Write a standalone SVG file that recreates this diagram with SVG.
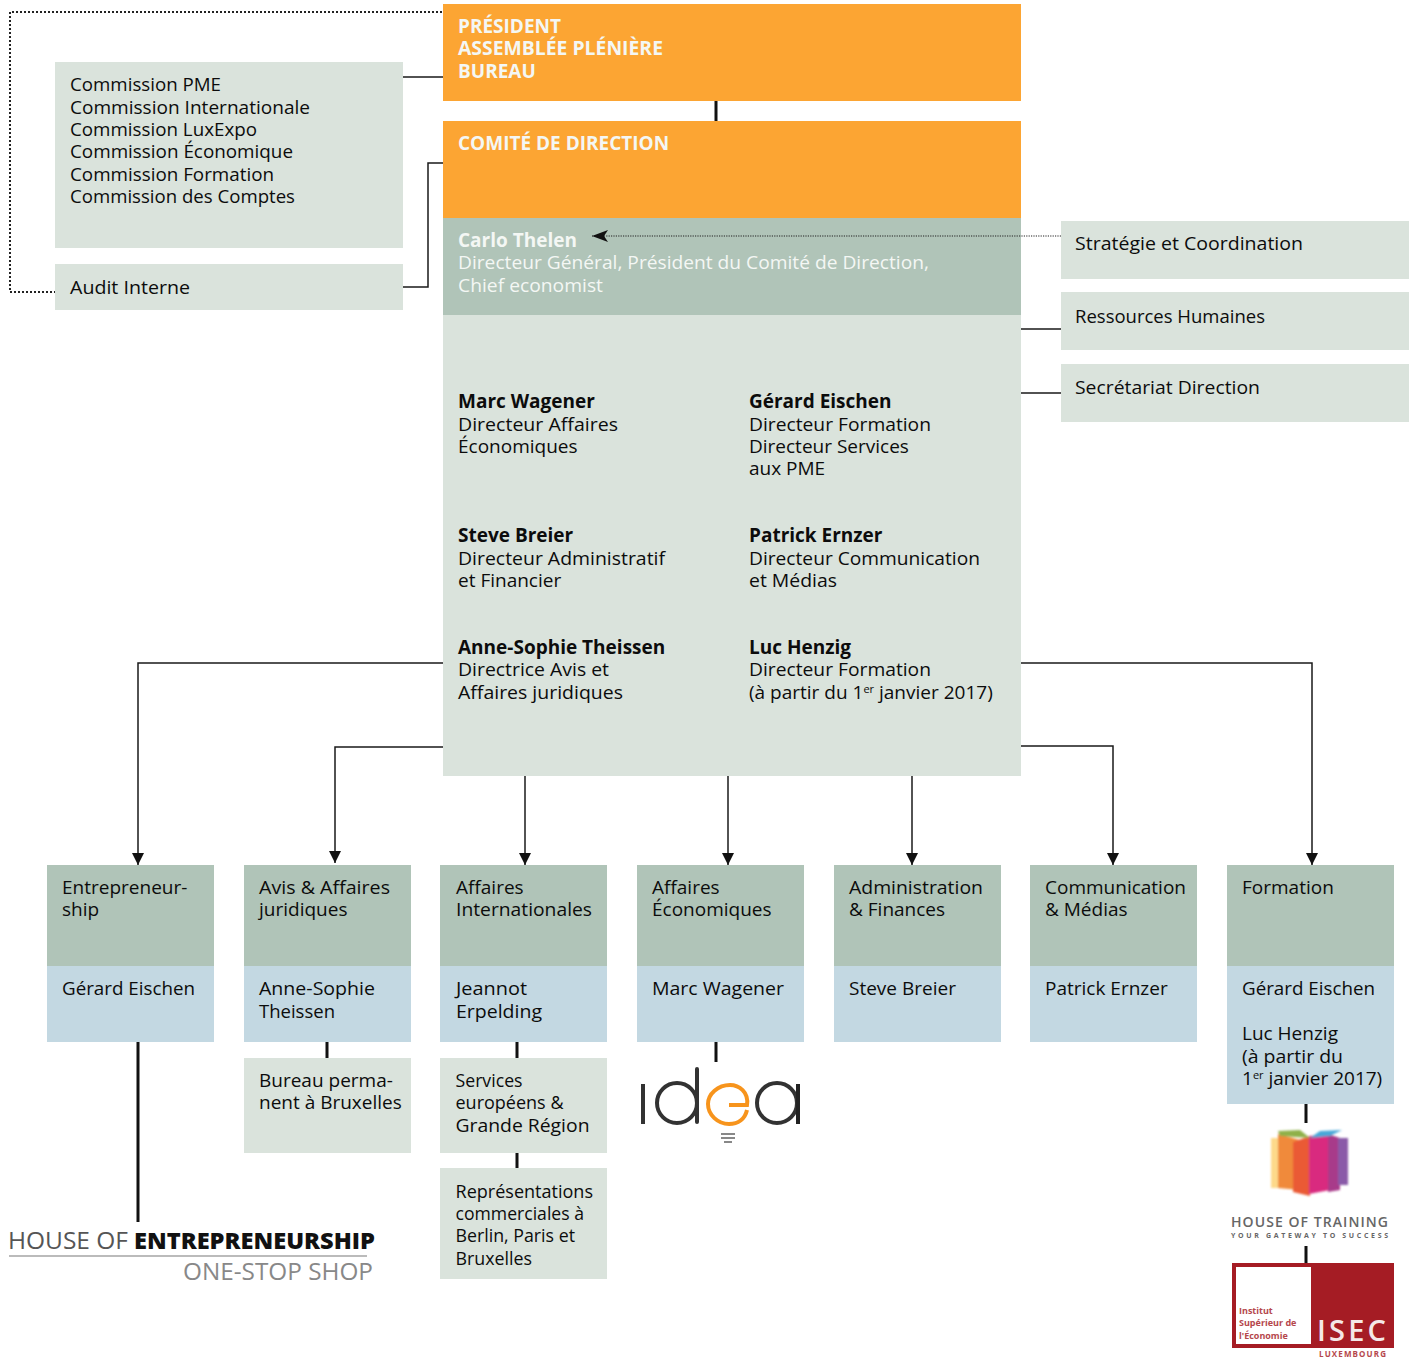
<svg xmlns="http://www.w3.org/2000/svg" width="1414" height="1358" viewBox="0 0 1414 1358">
<style>
text{font-family:"Open Sans","Noto Sans","Liberation Sans",sans-serif;font-size:19px;fill:#0c0c0c}
.b{font-weight:700}
.w{fill:#f4f7f4}
.o{fill:#fca533}
.g{fill:#dae3dc}
.m{fill:#b0c4b8}
.l{fill:#c3d8e2}
.c{fill:none;stroke:#1a1a1a;stroke-width:1.5}
.k{fill:none;stroke:#111;stroke-width:3}
.d{fill:none;stroke:#222;stroke-width:2;stroke-dasharray:2 2}
.e{fill:none;stroke:#222;stroke-width:1.2;stroke-dasharray:1.2 1.2}
</style>
<defs>
<marker id="a" markerWidth="14" markerHeight="14" refX="12" refY="6" orient="auto" markerUnits="userSpaceOnUse"><path d="M0 0L12 6L0 12z" fill="#111"/></marker>
<marker id="h" markerWidth="20" markerHeight="14" refX="16" refY="7" orient="auto" markerUnits="userSpaceOnUse"><path d="M0 1L16 7L0 13L4 7z" fill="#111"/></marker>
<filter id="s" x="-5%" y="-5%" width="110%" height="110%"><feGaussianBlur stdDeviation="1"/></filter>
<filter id="t" x="-5%" y="-5%" width="110%" height="110%"><feGaussianBlur stdDeviation="0.5"/></filter>
</defs>
<g id="connectors">
<path class="d" d="M442 12H10V292H55"/>
<path class="c" d="M403 77H443M403 287H428V163H443M1021 329H1061M1021 393H1061"/>
<path class="k" d="M716 101V121"/>
<path class="c" d="M443 663H138V865" marker-end="url(#a)"/>
<path class="c" d="M443 747H335V863" marker-end="url(#a)"/>
<path class="c" d="M525 776V865" marker-end="url(#a)"/>
<path class="c" d="M728 776V865" marker-end="url(#a)"/>
<path class="c" d="M912 776V865" marker-end="url(#a)"/>
<path class="c" d="M1021 746H1113V865" marker-end="url(#a)"/>
<path class="c" d="M1021 663H1312V865" marker-end="url(#a)"/>
<path class="k" d="M138 1042V1222M327 1042V1058M517 1042V1058M517 1153V1168M716 1042V1062M1306 1104V1123M1306 1246V1263"/>
</g>
<g id="president"><rect class="o" x="443" y="4" width="578" height="97"/>
<text class="b w" x="458" y="33">PRÉSIDENT</text><text class="b w" x="458" y="55" textLength="205" lengthAdjust="spacingAndGlyphs">ASSEMBLÉE PLÉNIÈRE</text><text class="b w" x="458" y="78">BUREAU</text></g>
<g id="comite"><rect class="o" x="443" y="121" width="578" height="97"/>
<text class="b w" x="458" y="150">COMITÉ DE DIRECTION</text></g>
<g id="carlo"><rect class="m" x="443" y="218" width="578" height="97"/>
<text class="b w" x="458" y="247">Carlo Thelen</text><text class="w" x="458" y="269" textLength="471" lengthAdjust="spacingAndGlyphs">Directeur Général, Président du Comité de Direction,</text><text class="w" x="458" y="292" textLength="145" lengthAdjust="spacingAndGlyphs">Chief economist</text></g>
<g id="directors"><rect class="g" x="443" y="315" width="578" height="461"/>
<text class="b" x="458" y="408">Marc Wagener</text><text x="458" y="431" textLength="160" lengthAdjust="spacingAndGlyphs">Directeur Affaires</text><text x="458" y="453">Économiques</text>
<text class="b" x="749" y="408">Gérard Eischen</text><text x="749" y="431" textLength="182" lengthAdjust="spacingAndGlyphs">Directeur Formation</text><text x="749" y="453">Directeur Services</text><text x="749" y="475">aux PME</text>
<text class="b" x="458" y="542">Steve Breier</text><text x="458" y="565" textLength="207" lengthAdjust="spacingAndGlyphs">Directeur Administratif</text><text x="458" y="587">et Financier</text>
<text class="b" x="749" y="542">Patrick Ernzer</text><text x="749" y="565" textLength="231" lengthAdjust="spacingAndGlyphs">Directeur Communication</text><text x="749" y="587" textLength="88" lengthAdjust="spacingAndGlyphs">et Médias</text>
<text class="b" x="458" y="654">Anne-Sophie Theissen</text><text x="458" y="676" textLength="151" lengthAdjust="spacingAndGlyphs">Directrice Avis et</text><text x="458" y="699" textLength="165" lengthAdjust="spacingAndGlyphs">Affaires juridiques</text>
<text class="b" x="749" y="654">Luc Henzig</text><text x="749" y="676" textLength="182" lengthAdjust="spacingAndGlyphs">Directeur Formation</text><text x="749" y="699">(à partir du 1<tspan font-size="11" dy="-6">er</tspan><tspan dy="6"> janvier 2017)</tspan></text></g>
<g id="commissions"><rect class="g" x="55" y="62" width="348" height="186"/>
<text x="70" y="91" textLength="151" lengthAdjust="spacingAndGlyphs">Commission PME</text><text x="70" y="114" textLength="240" lengthAdjust="spacingAndGlyphs">Commission Internationale</text><text x="70" y="136" textLength="187" lengthAdjust="spacingAndGlyphs">Commission LuxExpo</text><text x="70" y="158" textLength="223" lengthAdjust="spacingAndGlyphs">Commission Économique</text><text x="70" y="181" textLength="204" lengthAdjust="spacingAndGlyphs">Commission Formation</text><text x="70" y="203" textLength="225" lengthAdjust="spacingAndGlyphs">Commission des Comptes</text></g>
<g id="audit"><rect class="g" x="55" y="264" width="348" height="46"/><text x="70" y="294" textLength="120" lengthAdjust="spacingAndGlyphs">Audit Interne</text></g>
<g id="strategie"><rect class="g" x="1061" y="221" width="348" height="58"/><text x="1075" y="250" textLength="228" lengthAdjust="spacingAndGlyphs">Stratégie et Coordination</text></g>
<g id="rh"><rect class="g" x="1061" y="292" width="348" height="58"/><text x="1075" y="323" textLength="190" lengthAdjust="spacingAndGlyphs">Ressources Humaines</text></g>
<g id="secretariat"><rect class="g" x="1061" y="364" width="348" height="58"/><text x="1075" y="394" textLength="185" lengthAdjust="spacingAndGlyphs">Secrétariat Direction</text></g>
<g id="d1"><rect class="m" x="47" y="865" width="167" height="101"/><rect class="l" x="47" y="966" width="167" height="76"/><text x="62" y="894">Entrepreneur-</text><text x="62" y="916">ship</text><text x="62" y="995" textLength="133" lengthAdjust="spacingAndGlyphs">Gérard Eischen</text></g>
<g id="d2"><rect class="m" x="244" y="865" width="167" height="101"/><rect class="l" x="244" y="966" width="167" height="76"/><text x="259" y="894" textLength="131" lengthAdjust="spacingAndGlyphs">Avis &amp; Affaires</text><text x="259" y="916">juridiques</text><text x="259" y="995" textLength="116" lengthAdjust="spacingAndGlyphs">Anne-Sophie</text><text x="259" y="1018" textLength="76" lengthAdjust="spacingAndGlyphs">Theissen</text></g>
<g id="d3"><rect class="m" x="440" y="865" width="167" height="101"/><rect class="l" x="440" y="966" width="167" height="76"/><text x="456" y="894">Affaires</text><text x="456" y="916" textLength="136" lengthAdjust="spacingAndGlyphs">Internationales</text><text x="456" y="995" textLength="71" lengthAdjust="spacingAndGlyphs">Jeannot</text><text x="456" y="1018" textLength="86" lengthAdjust="spacingAndGlyphs">Erpelding</text></g>
<g id="d4"><rect class="m" x="637" y="865" width="167" height="101"/><rect class="l" x="637" y="966" width="167" height="76"/><text x="652" y="894">Affaires</text><text x="652" y="916">Économiques</text><text x="652" y="995" textLength="132" lengthAdjust="spacingAndGlyphs">Marc Wagener</text></g>
<g id="d5"><rect class="m" x="834" y="865" width="167" height="101"/><rect class="l" x="834" y="966" width="167" height="76"/><text x="849" y="894" textLength="134" lengthAdjust="spacingAndGlyphs">Administration</text><text x="849" y="916">&amp; Finances</text><text x="849" y="995">Steve Breier</text></g>
<g id="d6"><rect class="m" x="1030" y="865" width="167" height="101"/><rect class="l" x="1030" y="966" width="167" height="76"/><text x="1045" y="894">Communication</text><text x="1045" y="916">&amp; Médias</text><text x="1045" y="995">Patrick Ernzer</text></g>
<g id="d7"><rect class="m" x="1227" y="865" width="167" height="101"/><rect class="l" x="1227" y="966" width="167" height="138"/><text x="1242" y="894">Formation</text><text x="1242" y="995" textLength="133" lengthAdjust="spacingAndGlyphs">Gérard Eischen</text><text x="1242" y="1040">Luc Henzig</text><text x="1242" y="1063" textLength="101" lengthAdjust="spacingAndGlyphs">(à partir du</text><text x="1242" y="1085">1<tspan font-size="11" dy="-6">er</tspan><tspan dy="6"> janvier 2017)</tspan></text></g>
<g id="bureau"><rect class="g" x="244" y="1058" width="167" height="95"/><text x="259" y="1087">Bureau perma-</text><text x="259" y="1109">nent à Bruxelles</text></g>
<g id="services"><rect class="g" x="440" y="1058" width="167" height="95"/><text x="455.500" y="1087" textLength="67" lengthAdjust="spacingAndGlyphs">Services</text><text x="455.500" y="1109" textLength="108" lengthAdjust="spacingAndGlyphs">européens &amp;</text><text x="455.500" y="1132" textLength="134" lengthAdjust="spacingAndGlyphs">Grande Région</text></g>
<g id="representations"><rect class="g" x="440" y="1168" width="167" height="111"/><text x="455.500" y="1198" textLength="137.500" lengthAdjust="spacingAndGlyphs">Représentations</text><text x="455.500" y="1220" textLength="128.500" lengthAdjust="spacingAndGlyphs">commerciales à</text><text x="455.500" y="1242" textLength="119.500" lengthAdjust="spacingAndGlyphs">Berlin, Paris et</text><text x="455.500" y="1265" textLength="76.500" lengthAdjust="spacingAndGlyphs">Bruxelles</text></g>
<g id="logo-entrepreneurship">
<text x="8" y="1249" style="font-size:23px;fill:#555" textLength="120" lengthAdjust="spacingAndGlyphs">HOUSE OF</text>
<text x="134" y="1249" style="font-size:23px;font-weight:800;fill:#111" textLength="241" lengthAdjust="spacingAndGlyphs">ENTREPRENEURSHIP</text>
<rect x="9" y="1255" width="358" height="2" fill="#bbb"/>
<text x="183" y="1280" style="font-size:23px;fill:#888" textLength="190" lengthAdjust="spacingAndGlyphs">ONE-STOP SHOP</text></g>
<g id="logo-idea" fill="none" stroke-width="4" filter="url(#t)">
<path d="M643 1084V1124" stroke="#333"/>
<circle cx="677" cy="1103" r="20" stroke="#333"/><path d="M697 1069V1122" stroke="#333" stroke-linecap="round"/>
<path d="M729 1105H747C749 1092 739 1085 730 1085C718 1085 708 1094 708 1104C708 1115 718 1124 729 1124C738 1124 745 1119 747 1110" stroke="#f7941e"/>
<circle cx="777" cy="1103" r="20" stroke="#333"/><path d="M798 1084V1124" stroke="#222"/>
<path d="M721 1134H735M721 1138H735M724 1142H732" stroke="#888" stroke-width="2"/></g>
<g id="logo-training"><g filter="url(#s)">
<path d="M1271 1138H1280V1188H1271z" fill="#fdd98a"/><path d="M1278 1134L1300 1140V1190L1278 1188z" fill="#f08a3a"/><path d="M1293 1142L1310 1136V1196L1293 1192z" fill="#ea5a35"/><path d="M1309 1136L1330 1134V1190L1309 1194z" fill="#d92c7f"/><path d="M1328 1134L1340 1138V1190L1328 1192z" fill="#a83a8a"/><path d="M1338 1138H1348V1185H1338z" fill="#8a5aa8"/>
<path d="M1278 1131L1300 1130L1310 1138L1280 1136z" fill="#8fb04a"/><path d="M1310 1138L1320 1131L1342 1130L1330 1136z" fill="#4aa8d8"/></g>
<text x="1231" y="1227" style="font-size:14px;font-weight:600;fill:#666" textLength="157" lengthAdjust="spacing">HOUSE OF TRAINING</text>
<text x="1231" y="1238" style="font-size:7px;font-weight:700;fill:#666" textLength="157" lengthAdjust="spacing">YOUR GATEWAY TO SUCCESS</text></g>
<g id="logo-isec"><rect x="1232" y="1263" width="162" height="85" fill="#a51c24"/><rect x="1236" y="1267" width="75" height="77" fill="#fff"/>
<text x="1239" y="1314" style="font-size:9px;font-weight:700;fill:#b5474c">Institut</text><text x="1239" y="1326" style="font-size:9px;font-weight:700;fill:#b5474c">Supérieur de</text><text x="1239" y="1339" style="font-size:9px;font-weight:700;fill:#b5474c">l'Économie</text>
<text x="1317" y="1341" style="font-size:29px;font-weight:600;fill:#f4e8e8" textLength="69" lengthAdjust="spacing">ISEC</text>
<text x="1319" y="1357" style="font-size:8px;font-weight:700;fill:#b5474c" textLength="67" lengthAdjust="spacing">LUXEMBOURG</text></g>
<g id="connector-overlay"><path class="e" d="M1061 236H592" marker-end="url(#h)"/></g>
</svg>
